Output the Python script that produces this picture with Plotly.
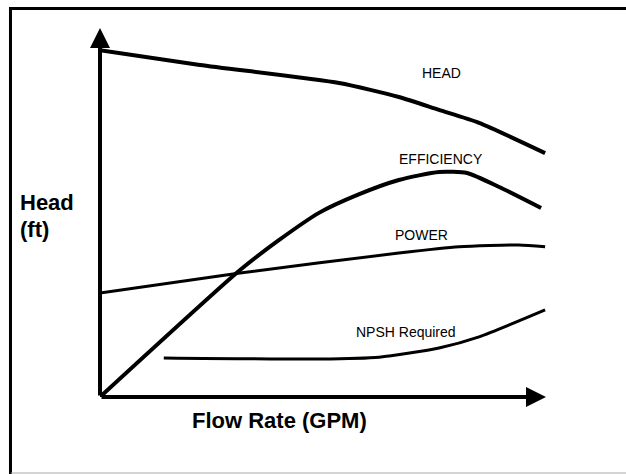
import plotly.graph_objects as go

# pump curves, flow rate as % of axis length, values as % of axis height
head_x = [0, 22.4, 53.6, 67.0, 76.0, 85.0, 99.8]
head_y = [94.0, 90.0, 85.1, 81.3, 77.8, 74.3, 66.1]

eff_x = [0, 31.4, 40.1, 49.1, 58.0, 67.0, 76.0, 82.3, 89.5, 98.9]
eff_y = [0, 34.4, 42.5, 49.9, 54.9, 58.8, 61.0, 60.7, 56.9, 51.2]

power_x = [0, 31.4, 67.0, 80.5, 93.9, 99.8]
power_y = [28.2, 33.6, 39.0, 40.7, 41.2, 40.7]

npsh_x = [14.3, 49.1, 62.6, 76.0, 85.0, 99.8]
npsh_y = [10.6, 10.3, 10.8, 13.3, 16.3, 23.6]

curve_labels = ['HEAD', 'EFFICIENCY', 'POWER', 'NPSH Required']
label_x = [76.5, 76.5, 72.0, 68.5]
label_y = [87.8, 64.6, 43.9, 17.6]

fig = go.Figure()

# Add the four curves
for xs, ys, w in [(head_x, head_y, 4), (eff_x, eff_y, 4),
                  (power_x, power_y, 3), (npsh_x, npsh_y, 3)]:
    fig.add_trace(go.Scatter(
        x=xs, y=ys,
        mode='lines',
        line=dict(color='black', width=w, shape='spline', smoothing=0.6),
        hoverinfo='skip',
        showlegend=False
    ))

# curve names
for t, lx, ly in zip(curve_labels, label_x, label_y):
    fig.add_annotation(x=lx, y=ly, text=t, showarrow=False,
                       font=dict(family='Liberation Sans', size=14, color='black'))

# axes with arrow heads
fig.add_annotation(x=0, y=100, ax=0, ay=0, xref='x', yref='y', axref='x', ayref='y',
                   text='', showarrow=True, arrowhead=2, arrowwidth=4, arrowsize=1,
                   arrowcolor='black')
fig.add_annotation(x=100, y=0, ax=0, ay=0, xref='x', yref='y', axref='x', ayref='y',
                   text='', showarrow=True, arrowhead=2, arrowwidth=4, arrowsize=1,
                   arrowcolor='black')

axis_font = dict(family='Liberation Sans', size=22, color='black')
fig.add_annotation(x=-0.184, y=0.528, xref='paper', yref='paper',
                   xanchor='left', yanchor='middle',
                   text='<b>Head</b>', showarrow=False, font=axis_font)
fig.add_annotation(x=-0.184, y=0.453, xref='paper', yref='paper',
                   xanchor='left', yanchor='middle',
                   text='<b>(ft)</b>', showarrow=False, font=axis_font)
fig.add_annotation(x=0.402, y=-0.065, xref='paper', yref='paper',
                   xanchor='center', yanchor='middle',
                   text='<b>Flow Rate (GPM)</b>', showarrow=False, font=axis_font)

# frame around the picture
fig.add_shape(type='line', xref='paper', yref='paper',
              x0=-0.204, x1=1.18, y0=1.0528, y1=1.0528,
              line=dict(color='black', width=3))
fig.add_shape(type='line', xref='paper', yref='paper',
              x0=-0.2007, x1=-0.2007, y0=1.057, y1=-0.21,
              line=dict(color='black', width=3))
fig.add_shape(type='line', xref='paper', yref='paper',
              x0=-0.2, x1=1.18, y0=-0.2060, y1=-0.2060,
              line=dict(color='#aaaaaa', width=1))

fig.update_xaxes(range=[0, 100], visible=False)
fig.update_yaxes(range=[0, 100], visible=False)
fig.update_layout(
    width=626, height=474,
    margin=dict(l=100, r=80, t=28, b=77, autoexpand=False),
    plot_bgcolor='white', paper_bgcolor='white'
)

# page has a default 8px body margin, remove it
fig.write_html("out.html", config={'displayModeBar': False},
               post_script="document.body.style.margin='0';")
